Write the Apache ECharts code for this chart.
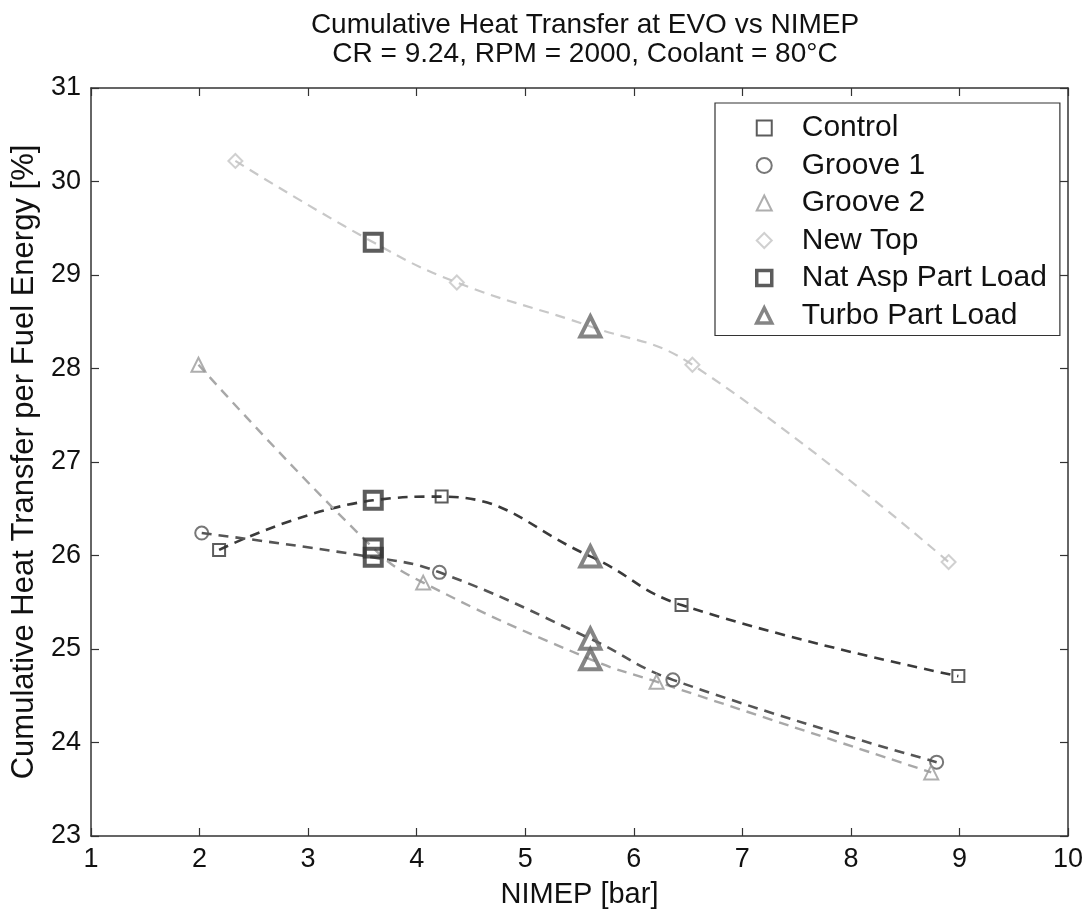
<!DOCTYPE html>
<html>
<head>
<meta charset="utf-8">
<title>Cumulative Heat Transfer at EVO vs NIMEP</title>
<script src="https://cdn.jsdelivr.net/npm/echarts@6/dist/echarts.min.js"></script>
<style>
  html, body { margin: 0; padding: 0; background: #fff; }
  #chart { width: 1089px; height: 916px; }
</style>
</head>
<body>
<div id="chart"></div>
<script>
// Measured points per piston configuration: NIMEP [bar] and heat transfer [%]
const controlX = [2.18, 4.23, 6.44, 8.99];
const controlY = [26.06, 26.63, 25.47, 24.71];
const groove1X = [2.02, 4.21, 6.36, 8.79];
const groove1Y = [26.24, 25.82, 24.67, 23.79];
const groove2X = [1.99, 4.06, 6.21, 8.74];
const groove2Y = [28.04, 25.71, 24.65, 23.68];
const newTopX  = [2.33, 4.37, 6.54, 8.90];
const newTopY  = [30.22, 28.92, 28.04, 25.93];

// Part-load operating points, one value per configuration
// in the order Control, Groove 1, Groove 2, New Top
const natAspX = 3.6;
const natAspY = [26.59, 25.98, 26.08, 29.35];
const turboX = 5.6;
const turboY = [25.99, 25.11, 24.89, 28.45];

const xTicks = [1, 10, 1];   // min, max, step
const yTicks = [23, 31, 1];

const FONT = 'Liberation Sans, Arial, Helvetica, sans-serif';

function pairs(xs, ys) { return xs.map((x, i) => [x, ys[i]]); }

// Curve through a configuration's own points plus its part-load points
function curve(xs, ys, k) {
  const pts = pairs(xs, ys).concat([[natAspX, natAspY[k]], [turboX, turboY[k]]]);
  return pts.sort((a, b) => a[0] - b[0]);
}

const configs = [
  { name: 'Control',  xs: controlX, ys: controlY, symbol: 'rect',     size: 12, stroke: '#333333', line: '#3a3a3a', lw: 2.6 },
  { name: 'Groove 1', xs: groove1X, ys: groove1Y, symbol: 'circle',   size: 13, stroke: '#555555', line: '#555555', lw: 2.6 },
  { name: 'Groove 2', xs: groove2X, ys: groove2Y, symbol: 'triangle', size: 14, stroke: '#9a9a9a', line: '#a8a8a8', lw: 2.4 },
  { name: 'New Top',  xs: newTopX,  ys: newTopY,  symbol: 'diamond',  size: 14, stroke: '#c4c4c4', line: '#c8c8c8', lw: 2.2 }
];

const series = [];
configs.forEach((c, k) => {
  series.push({
    id: 'curve-' + k,
    type: 'line',
    data: curve(c.xs, c.ys, k),
    smooth: 0.45,
    showSymbol: false,
    symbol: 'none',
    silent: true,
    z: 1,
    lineStyle: { color: c.line, width: c.lw, type: [10, 7] }
  });
});
configs.forEach((c) => {
  series.push({
    name: c.name,
    type: 'scatter',
    data: pairs(c.xs, c.ys),
    symbol: c.symbol,
    symbolSize: c.size,
    z: 3,
    itemStyle: { color: 'rgba(255,255,255,0)', borderColor: c.stroke, borderWidth: 2 }
  });
});
series.push({
  name: 'Nat Asp Part Load',
  type: 'scatter',
  data: natAspY.map(y => [natAspX, y]),
  symbol: 'rect',
  symbolSize: 17,
  z: 4,
  itemStyle: { color: 'rgba(255,255,255,0)', borderColor: '#333333', borderWidth: 4 }
});
series.push({
  name: 'Turbo Part Load',
  type: 'scatter',
  data: turboY.map(y => [turboX, y]),
  symbol: 'triangle',
  symbolSize: 20,
  z: 4,
  itemStyle: { color: 'rgba(255,255,255,0)', borderColor: '#666666', borderWidth: 4 }
});

const axisLine = { show: true, onZero: false, lineStyle: { color: '#333', width: 1.5 } };
const tickIn = { show: true, inside: true, length: 8, lineStyle: { color: '#333', width: 1.2 } };
const tickLabel = { color: '#111', fontSize: 27, fontFamily: FONT };

const legendItems = configs.map(c => ({ name: c.name, itemStyle: { borderWidth: 2 } })).concat([
  { name: 'Nat Asp Part Load', itemStyle: { borderWidth: 3.5 } },
  { name: 'Turbo Part Load', itemStyle: { borderWidth: 3.5 } }
]);

const chart = echarts.init(document.getElementById('chart'), null, { renderer: 'canvas' });
chart.setOption({
  animation: false,
  backgroundColor: '#ffffff',
  title: {
    text: 'Cumulative Heat Transfer at EVO vs NIMEP\nCR = 9.24, RPM = 2000, Coolant = 80°C',
    left: 580,
    textAlign: 'center',
    top: 6,
    textStyle: { fontFamily: FONT, fontSize: 28, fontWeight: 'normal', color: '#111', lineHeight: 29 }
  },
  grid: { left: 91, right: 21, top: 88, bottom: 80, containLabel: false },
  legend: {
    orient: 'vertical',
    left: 715,
    top: 103,
    data: legendItems,
    itemWidth: 15,
    itemHeight: 15,
    itemGap: 7.5,
    padding: [10, 13, 5, 40],
    borderColor: '#333',
    borderWidth: 1.2,
    backgroundColor: '#fff',
    selectedMode: false,
    textStyle: { fontFamily: FONT, fontSize: 30, color: '#111', lineHeight: 30, padding: [0, 0, 0, 25] }
  },
  xAxis: [
    {
      type: 'value', min: xTicks[0], max: xTicks[1], interval: xTicks[2],
      name: 'NIMEP [bar]', nameLocation: 'middle', nameGap: 44,
      nameTextStyle: { fontFamily: FONT, fontSize: 29, color: '#111' },
      axisLine: axisLine, axisTick: tickIn,
      axisLabel: Object.assign({ margin: 10 }, tickLabel),
      splitLine: { show: false }
    },
    {
      type: 'value', position: 'top', min: xTicks[0], max: xTicks[1], interval: xTicks[2],
      axisLine: axisLine, axisTick: tickIn, axisLabel: { show: false }, splitLine: { show: false }
    }
  ],
  yAxis: [
    {
      type: 'value', min: yTicks[0], max: yTicks[1], interval: yTicks[2],
      name: 'Cumulative Heat Transfer per Fuel Energy [%]', nameLocation: 'middle', nameGap: 50,
      nameTextStyle: { fontFamily: FONT, fontSize: 31, color: '#111' },
      axisLine: axisLine, axisTick: tickIn,
      axisLabel: Object.assign({ margin: 10 }, tickLabel),
      splitLine: { show: false }
    },
    {
      type: 'value', position: 'right', min: yTicks[0], max: yTicks[1], interval: yTicks[2],
      axisLine: axisLine, axisTick: tickIn, axisLabel: { show: false }, splitLine: { show: false }
    }
  ],
  series: series
});
</script>
</body>
</html>
